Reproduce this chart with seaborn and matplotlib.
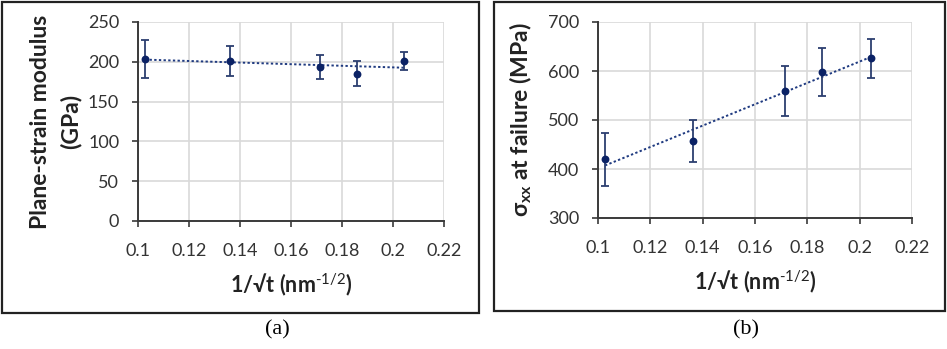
import numpy as np
import pandas as pd
import matplotlib
matplotlib.use("Agg")
import matplotlib.pyplot as plt
import seaborn as sns
from matplotlib.patches import Rectangle

# ---- data ----
inv_sqrt_t = [0.1027, 0.1362, 0.1714, 0.1857, 0.2042]
modulus = [204, 201, 194, 185, 201]
modulus_err = [24, 19, 15, 16, 11]
stress = [420, 457, 560, 598, 626]
stress_err = [54, 42, 51, 49, 40]
xticks = [0.1, 0.12, 0.14, 0.16, 0.18, 0.2, 0.22]
xtick_labels = ["0.1", "0.12", "0.14", "0.16", "0.18", "0.2", "0.22"]
yticks_a = [0, 50, 100, 150, 200, 250]
yticks_b = [300, 400, 500, 600, 700]

sns.set_theme(style="white")
plt.rcParams["font.family"] = ["Lato", "DejaVu Sans"]
plt.rcParams["mathtext.fontset"] = "custom"
plt.rcParams["mathtext.rm"] = "Lato"
plt.rcParams["mathtext.bf"] = "Lato:bold"
plt.rcParams["mathtext.default"] = "bf"

W, H = 947, 349
fig = plt.figure(figsize=(W / 100, H / 100), dpi=100)

def fx(px):
    return px / W

def fy(py):
    return 1 - py / H

# panel frames
for (x0, y0, x1, y1) in [(2, 2, 479, 313), (494, 2, 945, 311)]:
    fig.patches.append(Rectangle((fx(x0), fy(y1)), fx(x1 - x0), (y1 - y0) / H,
                                 transform=fig.transFigure, fill=False,
                                 edgecolor="#222222", linewidth=1.6, zorder=0))

ax_a = fig.add_axes([fx(138), fy(221), fx(444 - 138), (221 - 22) / H])
ax_b = fig.add_axes([fx(598), fy(218), fx(912 - 598), (218 - 22) / H])

navy = "#0b2265"
errc = "#2c3f70"
dfa = pd.DataFrame({"x": inv_sqrt_t, "y": modulus, "e": modulus_err})
dfb = pd.DataFrame({"x": inv_sqrt_t, "y": stress, "e": stress_err})

xlabel = "1/√t (nm$^{\\text{-1/2}}$)"

for ax, df, yt, ylim, ylabel, ylp in [
    (ax_a, dfa, yticks_a, (0, 250), "Plane-strain modulus\n(GPa)", 5),
    (ax_b, dfb, yticks_b, (300, 700), "σ$_{xx}$ at failure (MPa)", 10),
]:
    sns.regplot(data=df, x="x", y="y", ax=ax, scatter=False, ci=None,
                truncate=True,
                line_kws=dict(color="#1f3a80", linestyle=(0, (1.2, 1.2)), linewidth=1.4))
    ax.errorbar(df["x"], df["y"], yerr=df["e"], fmt="none", ecolor=errc,
                elinewidth=1.3, capsize=3, capthick=1.3, zorder=3)
    sns.scatterplot(data=df, x="x", y="y", ax=ax, color=navy, s=32,
                    edgecolor=navy, linewidth=0, zorder=4)
    ax.set_xlim(0.1, 0.22)
    ax.set_ylim(*ylim)
    ax.set_xticks(xticks)
    ax.set_xticklabels(xtick_labels)
    ax.set_yticks(yt)
    ax.grid(True, color="#d9d9d9", linewidth=1.2)
    ax.set_axisbelow(True)
    for s in ["top", "right"]:
        ax.spines[s].set_visible(False)
    for s in ["left", "bottom"]:
        ax.spines[s].set_color("#3a3a3a")
        ax.spines[s].set_linewidth(1.4)
    ax.tick_params(axis="both", direction="out", length=4.5, width=1.2,
                   color="#3a3a3a", labelsize=13, labelcolor="#333333",
                   bottom=True, left=True)
    ax.tick_params(axis="x", pad=11)
    ax.tick_params(axis="y", pad=9)
    ax.set_xlabel(xlabel, fontsize=15.5, fontweight="bold", color="#222222", labelpad=9)
    ax.set_ylabel(ylabel, fontsize=16.5, fontweight="bold", color="#222222",
                  linespacing=1.45, labelpad=ylp)

fig.text(fx(277), fy(330), "(a)", family=["Liberation Serif"], fontsize=16,
         ha="center", va="center", color="black")
fig.text(fx(746), fy(330), "(b)", family=["Liberation Serif"], fontsize=16,
         ha="center", va="center", color="black")

fig.savefig("out.png", dpi=100)
